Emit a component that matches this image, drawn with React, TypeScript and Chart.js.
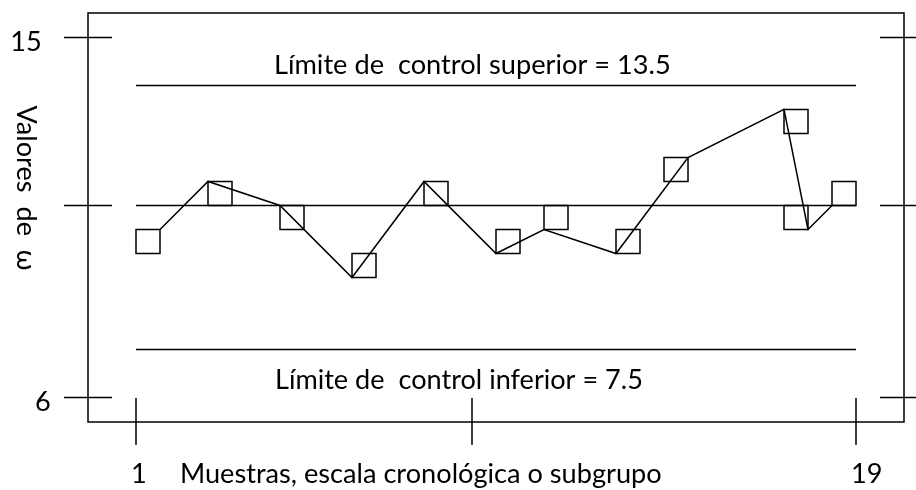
import React, { useEffect, useRef } from "react";
import { Chart, registerables } from "chart.js";

Chart.register(...registerables);

// Data
const traceX = [1.6, 2.8, 4.6, 6.4, 8.2, 10.0, 11.2, 13.0, 14.8, 17.2, 17.8, 18.4];
const traceY = [10.2, 11.4, 10.8, 9.0, 11.4, 9.6, 10.2, 9.6, 12.0, 13.2, 10.2, 10.8];
const sampleX = [1.3, 3.1, 4.9, 6.7, 8.5, 10.3, 11.5, 13.3, 14.5, 17.5, 17.5, 18.7];
const sampleY = [9.9, 11.1, 10.5, 9.3, 11.1, 9.9, 10.5, 9.9, 11.7, 12.9, 10.5, 11.1];
const limitX = [1, 19];
const upperLimit = 13.8;
const centerLine = 10.8;
const lowerLimit = 7.2;
const yTicks = [15, 10.8, 6];
const yTickLabels = ["15", "", "6"];
const xTicks = [1, 9.4, 19];
const xTickLabels = ["1", "", "19"];
const upperLabel = "Límite de  control superior = 13.5";
const lowerLabel = "Límite de  control inferior = 7.5";
const xTitle = "Muestras, escala cronológica o subgrupo";
const yTitle = "Valores  de  ω";

const FAMILY = "Lato";

function fitSize(ctx: CanvasRenderingContext2D, text: string, target: number) {
  ctx.font = `100px ${FAMILY}`;
  const w = ctx.measureText(text).width;
  return (100 * target) / w;
}

const framePlugin = {
  id: "framePlugin",
  afterDraw(chart: any) {
    const ctx = chart.ctx as CanvasRenderingContext2D;
    const { left, right, top, bottom } = chart.chartArea;
    const xs = chart.scales.x;
    const ys = chart.scales.y;
    ctx.save();
    ctx.strokeStyle = "#000";
    ctx.lineWidth = 1.5;
    ctx.strokeRect(left, top, right - left, bottom - top);
    const seg = (x1: number, y1: number, x2: number, y2: number) => {
      ctx.beginPath();
      ctx.moveTo(x1, y1);
      ctx.lineTo(x2, y2);
      ctx.stroke();
    };
    yTicks.forEach((v) => {
      const py = ys.getPixelForValue(v);
      seg(left - 24, py, left + 24, py);
      seg(right - 24, py, right + 24, py);
    });
    xTicks.forEach((v) => {
      const px = xs.getPixelForValue(v);
      seg(px, bottom - 24, px, bottom + 23);
    });

    const titleSize = fitSize(ctx, xTitle, 482);
    const upperSize = fitSize(ctx, upperLabel, 397);
    const lowerSize = fitSize(ctx, lowerLabel, 368);
    const baseFont = `${titleSize}px ${FAMILY}`;

    ctx.fillStyle = "#000";
    ctx.font = baseFont;
    // y tick labels
    ctx.textBaseline = "middle";
    ctx.textAlign = "center";
    const yLabelCenters = [26, 0, 43];
    yTicks.forEach((v, i) => {
      if (!yTickLabels[i]) return;
      ctx.fillText(yTickLabels[i], yLabelCenters[i], ys.getPixelForValue(v) + 5);
    });
    // x tick labels
    ctx.textBaseline = "alphabetic";
    ctx.textAlign = "left";
    xTicks.forEach((v, i) => {
      if (!xTickLabels[i]) return;
      ctx.fillText(xTickLabels[i], xs.getPixelForValue(v) - 5, 483);
    });
    // x title
    ctx.fillText(xTitle, 180, 483);
    // limit labels
    const labelX = xs.getPixelForValue(4.5) - 2;
    ctx.font = `${upperSize}px ${FAMILY}`;
    ctx.fillText(upperLabel, labelX, ys.getPixelForValue(upperLimit) - 11);
    ctx.font = `${lowerSize}px ${FAMILY}`;
    ctx.fillText(lowerLabel, labelX + 1, ys.getPixelForValue(lowerLimit) + 39);
    // y title, rotated clockwise
    ctx.font = baseFont;
    ctx.save();
    ctx.translate(26, 188);
    ctx.rotate(Math.PI / 2);
    ctx.textAlign = "center";
    ctx.textBaseline = "middle";
    ctx.fillText(yTitle, 0, 0);
    ctx.restore();
    ctx.restore();
  },
};

export default function App() {
  const ref = useRef<HTMLCanvasElement | null>(null);
  useEffect(() => {
    if (!ref.current) return;
    const hLine = (v: number) => limitX.map((x) => ({ x, y: v }));
    const lineStyle = {
      borderColor: "#000",
      borderWidth: 1.5,
      pointRadius: 0,
      fill: false,
      tension: 0,
      showLine: true,
    };
    const chart = new Chart(ref.current, {
      type: "scatter",
      data: {
        datasets: [
          { label: "upper", data: hLine(upperLimit), ...lineStyle },
          { label: "center", data: hLine(centerLine), ...lineStyle },
          { label: "lower", data: hLine(lowerLimit), ...lineStyle },
          {
            label: "trace",
            data: traceX.map((x, i) => ({ x, y: traceY[i] })),
            ...lineStyle,
          },
          {
            label: "samples",
            data: sampleX.map((x, i) => ({ x, y: sampleY[i] })),
            showLine: false,
            pointStyle: "rect",
            pointRadius: 12 * Math.SQRT2,
            pointBorderColor: "#000",
            pointBackgroundColor: "rgba(0,0,0,0)",
            pointBorderWidth: 1.5,
            borderColor: "#000",
            backgroundColor: "rgba(0,0,0,0)",
          },
        ],
      },
      options: {
        animation: false,
        responsive: false,
        layout: { autoPadding: false, padding: { left: 88, top: 13, right: 12, bottom: 68 } },
        scales: {
          x: { type: "linear", min: -0.2, max: 20.2, display: false },
          y: { type: "linear", min: 5.39, max: 15.61, display: false },
        },
        plugins: {
          legend: { display: false },
          tooltip: { enabled: false },
        },
      },
      plugins: [framePlugin],
    } as any);
    return () => chart.destroy();
  }, []);
  return (
    <div style={{ position: "absolute", left: 0, top: 0, width: 916, height: 490, background: "#fff" }}>
      <canvas ref={ref} width={916} height={490} />
    </div>
  );
}
